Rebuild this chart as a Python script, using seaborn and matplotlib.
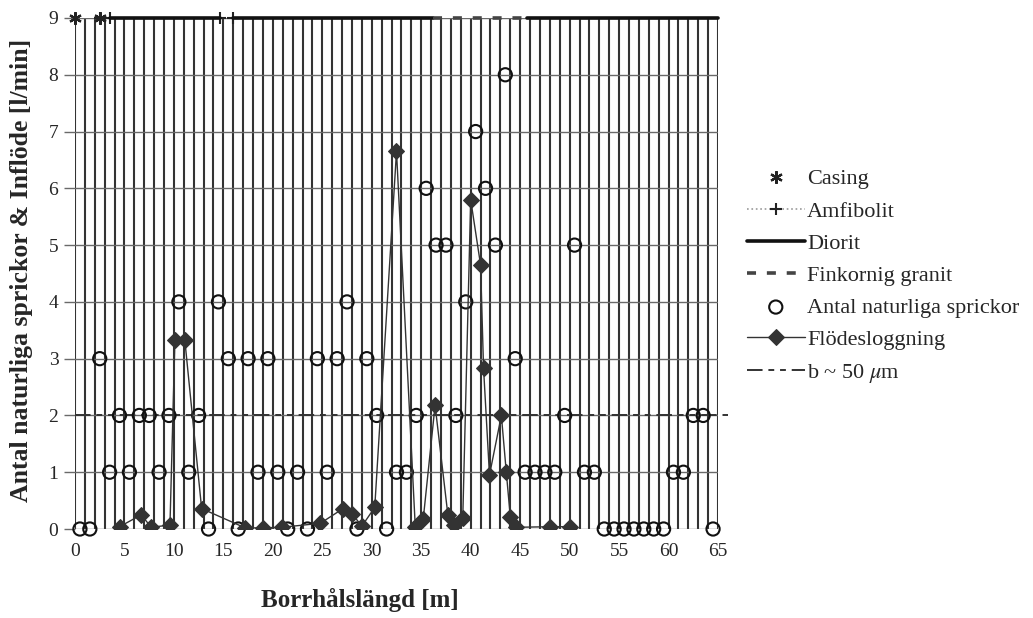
import numpy as np
import pandas as pd
import matplotlib
matplotlib.use("Agg")
import matplotlib.pyplot as plt
from matplotlib.ticker import MultipleLocator
import seaborn as sns

# Antal naturliga sprickor per metre (plotted at interval midpoint)
sprick_x = [0.5, 1.5, 2.5, 3.5, 4.5, 5.5, 6.5, 7.5, 8.5, 9.5,
            10.5, 11.5, 12.5, 13.5, 14.5, 15.5, 16.5, 17.5, 18.5, 19.5,
            20.5, 21.5, 22.5, 23.5, 24.5, 25.5, 26.5, 27.5, 28.5, 29.5,
            30.5, 31.5, 32.5, 33.5, 34.5, 35.5, 36.5, 37.5, 38.5, 39.5,
            40.5, 41.5, 42.5, 43.5, 44.5, 45.5, 46.5, 47.5, 48.5, 49.5,
            50.5, 51.5, 52.5, 53.5, 54.5, 55.5, 56.5, 57.5, 58.5, 59.5,
            60.5, 61.5, 62.5, 63.5, 64.5]
sprick_n = [0, 0, 3, 1, 2, 1, 2, 2, 1, 2,
            4, 1, 2, 0, 4, 3, 0, 3, 1, 3,
            1, 0, 1, 0, 3, 1, 3, 4, 0, 3,
            2, 0, 1, 1, 2, 6, 5, 5, 2, 4,
            7, 6, 5, 8, 3, 1, 1, 1, 1, 2,
            5, 1, 1, 0, 0, 0, 0, 0, 0, 0,
            1, 1, 2, 2, 0]

# Flödesloggning [l/min]
flow_x = [4.5, 6.7, 7.7, 9.6, 10.1, 11.1, 12.8, 17.2, 19.0, 20.9,
          24.8, 27.1, 28.0, 29.0, 30.3, 32.5, 34.4, 35.2, 36.4, 37.7,
          38.3, 39.2, 40.0, 41.0, 41.3, 41.9, 43.1, 43.6, 44.0, 44.6,
          48.0, 50.0]
flow_q = [0.04, 0.25, 0.03, 0.07, 3.33, 3.33, 0.36, 0.02, 0.02, 0.03,
          0.10, 0.36, 0.27, 0.05, 0.38, 6.65, 0.03, 0.17, 2.18, 0.24,
          0.07, 0.20, 5.80, 4.65, 2.83, 0.95, 2.00, 1.00, 0.22, 0.03,
          0.04, 0.04]

# lithology along the top (y = 9)
casing_x = [0.0, 2.5]
amfibolit_x = [2.5, 3.5, np.nan, 14.7, 16.0]
diorit_x = [3.5, 14.7, np.nan, 16.0, 36.2, np.nan, 45.7, 65.0]
granit_x = [36.2, 45.7]
lito_y = 9

# b ~ 50 um reference level
b_x = [0.0, 66.0]
b_y = [2, 2]

sns.set_style("white")
plt.rcParams['font.family'] = ['Liberation Serif', 'DejaVu Serif']
plt.rcParams['mathtext.fontset'] = 'stix'

fig = plt.figure(figsize=(10.33, 6.18), dpi=100)
ax = fig.add_axes([75 / 1033, 1 - 529 / 618, 643 / 1033, 511 / 618])

ax.set_xlim(0, 65)
ax.set_ylim(0, 9)
ax.xaxis.set_major_locator(MultipleLocator(5))
ax.xaxis.set_minor_locator(MultipleLocator(1))
ax.yaxis.set_major_locator(MultipleLocator(1))
ax.grid(True, axis='x', which='both', color='#333333', lw=1.5)
ax.grid(True, axis='y', which='major', color='#6a6a6a', lw=1.0)
ax.set_axisbelow(True)
for s in ax.spines.values():
    s.set_visible(False)

# lithology
ax.plot(amfibolit_x, [lito_y] * len(amfibolit_x), color='#9a9a9a', ls=':',
        lw=1.2, marker='+', ms=9, mec='#222222', mew=1.5,
        label='Amfibolit', clip_on=False, zorder=4)
ax.plot(diorit_x, [lito_y] * len(diorit_x), color='#111111', lw=2.6,
        label='Diorit', clip_on=False, zorder=4)
ax.plot(granit_x, [lito_y] * len(granit_x), color='#444444', lw=2.6,
        dashes=(2.5, 3), label='Finkornig granit', clip_on=False, zorder=4)
ax.plot(casing_x, [lito_y] * len(casing_x), ls='none', marker=(6, 2, 0),
        ms=9, mec='#222222', mew=1.6, label='Casing', clip_on=False, zorder=5)

# data
sns.scatterplot(x=sprick_x, y=sprick_n, ax=ax, marker='o', s=90,
                facecolor='none', edgecolor='#111111', linewidth=1.5,
                label='Antal naturliga sprickor', zorder=5, clip_on=False)
sns.lineplot(x=flow_x, y=flow_q, ax=ax, color='#333333', lw=1.0,
             marker='D', markersize=8.5, markerfacecolor='#333333',
             markeredgecolor='#333333', sort=False,
             label='Flödesloggning', zorder=6)
ax.plot(b_x, b_y, color='#333333', lw=1.4, dashes=(8, 3, 3, 3, 3, 3),
        label=r'b ~ 50 $\mu$m', clip_on=False, zorder=3)

ax.tick_params(axis='x', which='major', length=0, labelsize=14, pad=10)
ax.tick_params(axis='x', which='minor', length=0)
ax.tick_params(axis='y', which='major', length=8, width=1, color='#6a6a6a',
               direction='out', labelsize=14, left=True, pad=4)

ax.set_xlabel('Borrhålslängd [m]', fontsize=18, fontweight='bold')
ax.xaxis.set_label_coords(360 / 1033, 1 - 600 / 618, transform=fig.transFigure)
ax.xaxis.label.set_va('center')
ax.set_ylabel('Antal naturliga sprickor & Inflöde [l/min]', fontsize=18.5,
              fontweight='bold')
ax.yaxis.set_label_coords(22 / 1033, 1 - 270 / 618, transform=fig.transFigure)
ax.yaxis.label.set_va('center')

h, l = ax.get_legend_handles_labels()
order = ['Casing', 'Amfibolit', 'Diorit', 'Finkornig granit',
         'Antal naturliga sprickor', 'Flödesloggning', r'b ~ 50 $\mu$m']
hd = dict(zip(l, h))
ax.legend([hd[k] for k in order], order, loc='upper left',
          bbox_to_anchor=(738 / 1033, 1 - 160 / 618),
          bbox_transform=fig.transFigure, frameon=False, fontsize=16,
          handlelength=2.6, handletextpad=0.1, labelspacing=0.52,
          borderaxespad=0)

fig.savefig('out.png', dpi=100)
